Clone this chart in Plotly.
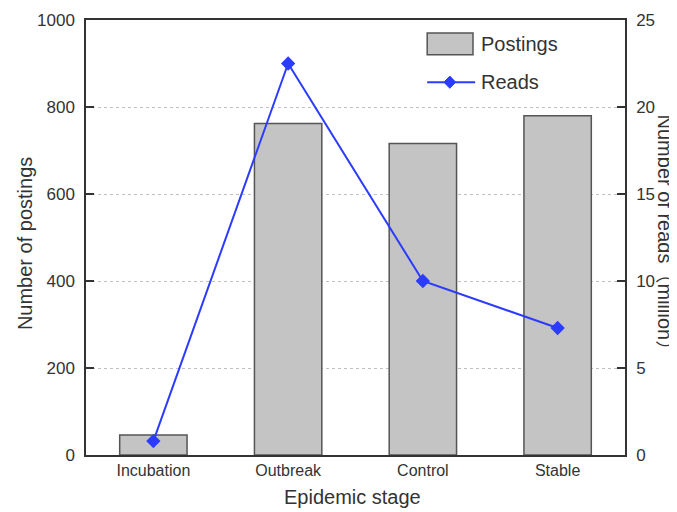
import plotly.graph_objects as go

stages = ["Incubation", "Outbreak", "Control", "Stable"]
postings = [46, 762, 716, 780]
reads = [0.8, 22.5, 10.0, 7.3]

FONT = "Liberation Sans, Arial, sans-serif"
TXT = "#333333"
BAR_FILL = "#c4c4c4"
BAR_LINE = "#555555"
BLUE = "#2b3bff"

fig = go.Figure()
fig.add_trace(go.Bar(
    x=stages, y=postings, name="Postings", width=0.5,
    marker=dict(color=BAR_FILL, line=dict(color=BAR_LINE, width=1.5)),
    yaxis="y", showlegend=False,
))
fig.add_trace(go.Scatter(
    x=stages, y=reads, name="Reads", mode="lines+markers",
    line=dict(color=BLUE, width=2),
    marker=dict(symbol="diamond", size=11, color=BLUE),
    yaxis="y2", showlegend=False,
))

# custom legend (paper coordinates)
shapes = [
    dict(type="rect", xref="paper", yref="paper", x0=0.633, x1=0.718, y0=0.920, y1=0.970,
         fillcolor=BAR_FILL, line=dict(color=BAR_LINE, width=1.5)),
    dict(type="line", xref="paper", yref="paper", x0=0.633, x1=0.722, y0=0.857, y1=0.857,
         line=dict(color=BLUE, width=2)),
    dict(type="path", xref="paper", yref="paper",
         path="M 0.664 0.857 L 0.675 0.871 L 0.686 0.857 L 0.675 0.843 Z",
         fillcolor=BLUE, line=dict(color=BLUE, width=1)),
]

annotations = [
    dict(text="Postings", xref="paper", yref="paper", x=0.729, y=0.945,
         xanchor="left", yanchor="middle", showarrow=False, font=dict(size=20, color=TXT)),
    dict(text="Reads", xref="paper", yref="paper", x=0.729, y=0.857,
         xanchor="left", yanchor="middle", showarrow=False, font=dict(size=20, color=TXT)),
    dict(text="Number of postings", textangle=-90, xref="paper", yref="paper",
         x=-0.113, y=0.485, xanchor="center", yanchor="middle", showarrow=False,
         font=dict(size=20, color=TXT)),
    dict(text="Epidemic stage", xref="paper", yref="paper", x=0.494, y=-0.0966,
         xanchor="center", yanchor="middle", showarrow=False, font=dict(size=20, color=TXT)),
    dict(text="Number of reads（million）", textangle=90,
         xref="paper", yref="paper", x=1.076, y=0.5,
         xanchor="center", yanchor="middle", showarrow=False,
         font=dict(size=20, color=TXT, family="Liberation Sans, Noto Sans CJK SC, sans-serif")),
]

fig.update_layout(
    width=669, height=504,
    margin=dict(l=78, r=52, t=12, b=57, autoexpand=False),
    plot_bgcolor="white", paper_bgcolor="white",
    font=dict(family=FONT, color=TXT, size=16),
    showlegend=False,
    xaxis=dict(
        range=[-0.5, 3.5], showgrid=False, ticks="", automargin=False,
        showline=True, linecolor="#333333", linewidth=1.5, mirror=True,
        tickfont=dict(size=16, color=TXT),
    ),
    yaxis=dict(
        range=[0, 1000], dtick=200, ticks="inside", ticklen=8, automargin=False,
        ticklabelstandoff=6,
        tickcolor="#333333", tickwidth=1.5, showline=True, linecolor="#333333", linewidth=1.5,
        showgrid=True, gridcolor="#c0c0c0", griddash="3px,3px", gridwidth=1,
        zeroline=False, tickfont=dict(size=17, color=TXT),
    ),
    yaxis2=dict(
        range=[0, 25], dtick=5, overlaying="y", side="right", automargin=False,
        ticklabelstandoff=6,
        ticks="inside", ticklen=8, tickcolor="#333333", tickwidth=1.5,
        showline=True, linecolor="#333333", linewidth=1.5,
        showgrid=False, zeroline=False, tickfont=dict(size=17, color=TXT),
    ),
    shapes=shapes,
    annotations=annotations,
)

fig.write_html("out.html")
